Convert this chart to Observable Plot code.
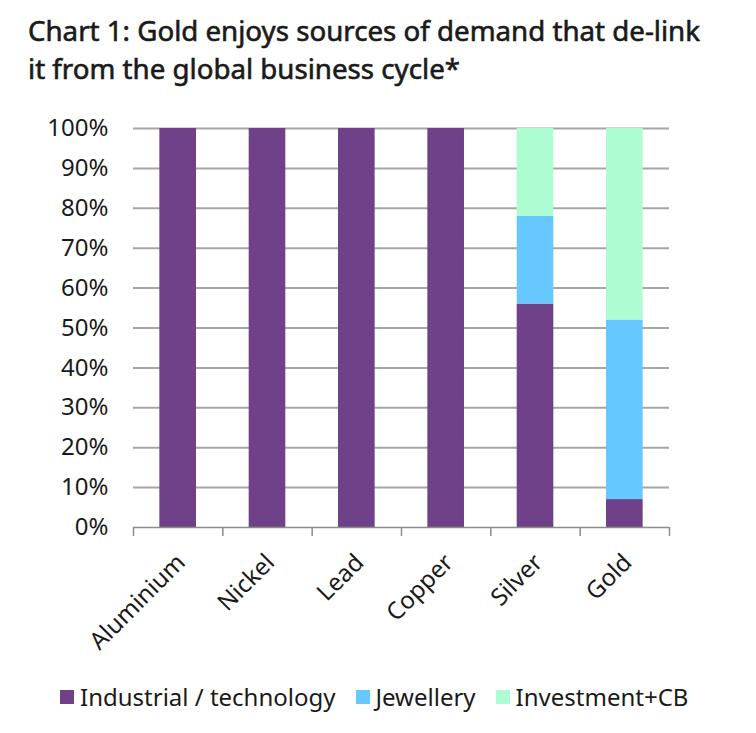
<!DOCTYPE html>
<html>
<head>
<meta charset="utf-8">
<script src="https://cdn.jsdelivr.net/npm/d3@7"></script>
<script src="https://cdn.jsdelivr.net/npm/@observablehq/plot@0.6"></script>
<style>
  body { margin: 0; background: #fff; font-family: "Noto Sans", sans-serif; }
  #wrap { width: 756px; height: 733px; position: relative; overflow: hidden; }
  #title { position: absolute; left: 28px; top: 11px; font-size: 27.7px; font-weight: 400; -webkit-text-stroke: 0.6px #1a1a1a; line-height: 38px; color: #1a1a1a; white-space: nowrap; }
  #chart { position: absolute; left: 0; top: 100px; }
  #legend { position: absolute; left: 60px; top: 680px; font-size: 24px; color: #1a1a1a; display: flex; align-items: center; white-space: nowrap; }
  .sw { display: inline-block; width: 14px; height: 14px; margin-right: 6px; }
  .item { display: flex; align-items: center; margin-right: 20px; }
</style>
</head>
<body>
<div id="wrap">
  <div id="title">Chart 1: Gold enjoys sources of demand that de-link<br>it from the global business cycle*</div>
  <div id="chart"></div>
  <div id="legend"></div>
</div>
<script>
const metals = ["Aluminium", "Nickel", "Lead", "Copper", "Silver", "Gold"];
const series = ["Industrial / technology", "Jewellery", "Investment+CB"];
const industrial = [100, 100, 100, 100, 56, 7];
const jewellery = [0, 0, 0, 0, 22, 45];
const investment = [0, 0, 0, 0, 22, 48];
const colors = ["#6f4188", "#66c8ff", "#adfcd2"];
const yTicks = [0, 10, 20, 30, 40, 50, 60, 70, 80, 90, 100];

const valuesBySeries = [industrial, jewellery, investment];
const rows = [];
metals.forEach((m, i) => {
  let base = 0;
  series.forEach((s, k) => {
    const v = valuesBySeries[k][i];
    rows.push({metal: m, i, series: s, y1: base, y2: base + v});
    base += v;
  });
});

const chart = Plot.plot({
  width: 756,
  height: 560,
  marginLeft: 133,
  marginRight: 87,
  marginTop: 28,
  marginBottom: 133,
  style: {fontFamily: "Noto Sans, sans-serif", fontSize: "24px", color: "#1a1a1a"},
  x: {domain: [0, metals.length], axis: null},
  y: {domain: [0, 100], axis: null},
  color: {domain: series, range: colors},
  marks: [
    Plot.ruleY(yTicks.filter(d => d > 0), {stroke: "#a6a6a6", strokeWidth: 2}),
    Plot.rectY(rows.filter(d => d.y2 > d.y1), {x1: d => d.i + 0.295, x2: d => d.i + 0.705, y1: "y1", y2: "y2", fill: "series"}),
    Plot.ruleY([0], {stroke: "#8c8c8c", strokeWidth: 1.5}),
    Plot.ruleX(d3.range(metals.length + 1), {x: d => d, y1: 0, y2: 0, insetBottom: -9, stroke: "#8c8c8c", strokeWidth: 1.5}),
    Plot.text(yTicks, {x: 0, y: d => d, text: d => d + "%", textAnchor: "end", dx: -25, fontSize: 24, fill: "#1a1a1a"}),
    Plot.text(metals, {x: (d, i) => i + 0.5, y: 0, text: d => d, rotate: -45, textAnchor: "end", dx: 3, dy: 31, fontSize: 24, fill: "#1a1a1a"})
  ]
});
document.getElementById("chart").appendChild(chart);

const legend = document.getElementById("legend");
series.forEach((s, k) => {
  const item = document.createElement("div");
  item.className = "item";
  const sw = document.createElement("span");
  sw.className = "sw";
  sw.style.background = colors[k];
  item.appendChild(sw);
  item.appendChild(document.createTextNode(s));
  legend.appendChild(item);
});
</script>
</body>
</html>
